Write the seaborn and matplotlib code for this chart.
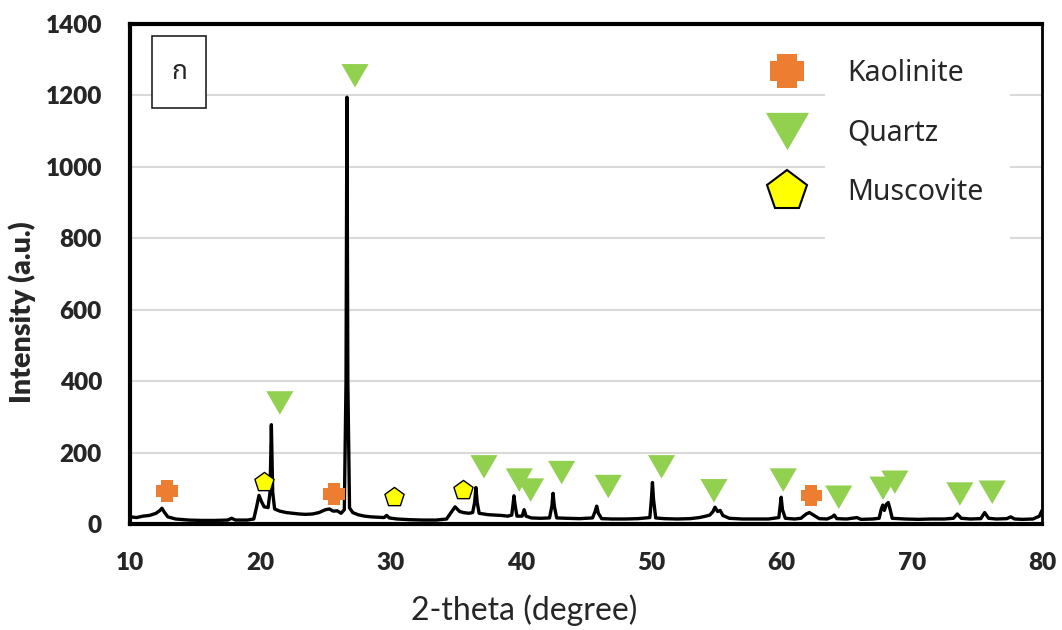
import numpy as np
import pandas as pd
import matplotlib
matplotlib.use("Agg")
import matplotlib.pyplot as plt
from matplotlib.path import Path
from matplotlib.lines import Line2D
from matplotlib.patches import Rectangle
from matplotlib.ticker import MultipleLocator
import seaborn as sns

# ---------------- data ----------------
two_theta = [10.0, 10.5, 11.0, 11.5, 12.0, 12.3, 12.45, 12.6, 12.9, 13.5, 14.5, 15.5, 16.5, 17.5,
             17.8, 18.1, 19.0, 19.5, 19.7, 19.9, 20.1, 20.3, 20.6, 20.75, 20.85, 20.95, 21.1, 21.5,
             22.0, 22.5, 23.0, 23.5, 24.0, 24.5, 25.0, 25.3, 25.6, 25.9, 26.2, 26.45, 26.58, 26.65,
             26.72, 26.85, 27.1, 27.5, 28.0, 28.5, 29.0, 29.5, 29.7, 29.9, 30.5, 31.5, 32.5, 33.5,
             34.3, 34.6, 34.95, 35.3, 35.6, 36.0, 36.3, 36.45, 36.55, 36.65, 36.8, 37.5, 38.0, 38.5,
             39.0, 39.3, 39.4, 39.47, 39.55, 39.7, 40.1, 40.25, 40.4, 40.8, 41.5, 42.2, 42.38, 42.47,
             42.57, 42.75, 43.5, 44.5, 45.5, 45.7, 45.82, 45.95, 46.2, 47.0, 48.0, 49.0, 49.9, 50.02,
             50.1, 50.18, 50.35, 51.0, 52.0, 53.0, 53.7, 54.2, 54.5, 54.75, 54.9, 55.1, 55.3, 55.5,
             56.0, 57.0, 58.0, 59.0, 59.8, 59.9, 59.98, 60.08, 60.3, 61.0, 61.5, 61.9, 62.15, 62.5,
             62.9, 63.5, 63.9, 64.05, 64.25, 65.0, 65.8, 66.1, 67.0, 67.5, 67.65, 67.78, 67.9, 68.05,
             68.2, 68.35, 68.5, 69.5, 70.5, 71.5, 72.5, 73.2, 73.5, 73.8, 74.5, 75.3, 75.6, 75.9,
             76.5, 77.3, 77.6, 77.9, 78.5, 79.3, 79.8, 80.0]
intensity = [20, 18, 22, 24, 30, 38, 44, 35, 20, 14, 11, 10, 10, 11,
             16, 11, 11, 14, 45, 80, 62, 48, 46, 90, 278, 90, 42, 36,
             32, 30, 28, 27, 28, 32, 40, 42, 36, 37, 30, 40, 400, 1195,
             400, 45, 32, 26, 22, 20, 19, 18, 24, 17, 14, 12, 11, 11,
             14, 30, 48, 35, 32, 30, 32, 60, 102, 60, 30, 26, 25, 24,
             22, 25, 55, 79, 55, 22, 22, 40, 22, 17, 16, 17, 50, 86,
             50, 17, 16, 15, 17, 35, 50, 30, 15, 14, 14, 15, 18, 70,
             116, 70, 17, 15, 14, 15, 18, 22, 25, 35, 47, 35, 38, 24,
             16, 14, 14, 14, 18, 50, 75, 40, 16, 14, 16, 28, 32, 24,
             15, 14, 20, 25, 15, 14, 18, 13, 14, 16, 40, 53, 38, 55,
             60, 40, 16, 14, 13, 14, 14, 16, 28, 16, 14, 15, 32, 16,
             14, 15, 20, 14, 13, 14, 22, 38]

kaolinite_x = [12.84, 25.66, 62.3]
kaolinite_y = [92, 84, 80]

quartz_x = [21.5, 27.27, 37.17, 39.88, 40.75, 43.13, 46.71, 50.8, 54.82, 60.14, 64.4, 67.8, 68.71, 73.7, 76.18]
quartz_y = [339, 1255, 160, 123, 95, 144, 105, 160, 93, 123, 75, 100, 117, 84, 89]

muscovite_x = [20.31, 30.26, 35.53]
muscovite_y = [117, 75, 95]

phase_labels = ["Kaolinite", "Quartz", "Muscovite"]
x_ticks = [10, 20, 30, 40, 50, 60, 70, 80]
y_ticks = [0, 200, 400, 600, 800, 1000, 1200, 1400]
panel_label = "ก"

# ---------------- style ----------------
sns.set_style("white")
plt.rcParams['font.family'] = ['Lato', 'DejaVu Sans']

ORANGE = "#ED7D31"
GREEN = "#92D050"
YELLOW = "#FFFF00"

# custom marker shapes
a = 0.55
plus_path = Path([(-a, 1), (a, 1), (a, a), (1, a), (1, -a), (a, -a), (a, -1), (-a, -1),
                  (-a, -a), (-1, -a), (-1, a), (-a, a), (-a, 1)], closed=True)
tri_path = Path([(-1, 0.866), (1, 0.866), (0, -0.866), (-1, 0.866)], closed=True)

fig = plt.figure(figsize=(10.62, 6.30), dpi=100)
ax = fig.add_axes([130 / 1062, 106 / 630, 912 / 1062, 500 / 630])

df = pd.DataFrame({"two_theta": two_theta, "intensity": intensity})
sns.lineplot(data=df, x="two_theta", y="intensity", ax=ax, color="black", linewidth=2.4,
             sort=False, zorder=3)

sns.scatterplot(x=kaolinite_x, y=kaolinite_y, ax=ax, marker=plus_path, s=15.5 ** 2,
                color=ORANGE, edgecolor="none", linewidth=0, zorder=4)
sns.scatterplot(x=quartz_x, y=quartz_y, ax=ax, marker=tri_path, s=19.5 ** 2,
                color=GREEN, edgecolor="none", linewidth=0, zorder=4)
sns.scatterplot(x=muscovite_x, y=muscovite_y, ax=ax, marker="p", s=14.5 ** 2,
                color=YELLOW, edgecolor="black", linewidth=1.0, zorder=4)

ax.set_xlim(10, 80)
ax.set_ylim(0, 1400)
ax.set_xticks(x_ticks)
ax.set_yticks(y_ticks)
ax.xaxis.set_minor_locator(MultipleLocator(5))
ax.tick_params(axis="both", which="major", direction="out", length=7.2, width=2,
               labelsize=17.5, color="black", pad=13)
ax.tick_params(axis="x", which="minor", direction="out", length=4.5, width=1.5,
               color="black")
for lab in ax.get_xticklabels() + ax.get_yticklabels():
    lab.set_fontweight("heavy")

ax.yaxis.grid(True, color="#d9d9d9", linewidth=1.5, zorder=0)
ax.xaxis.grid(False)
ax.set_axisbelow(True)
for s in ax.spines.values():
    s.set_visible(True)
    s.set_color("black")
ax.spines["left"].set_linewidth(3)
ax.spines["bottom"].set_linewidth(3)
ax.spines["top"].set_linewidth(3)
ax.spines["right"].set_linewidth(2)

ax.set_xlabel("2-theta (degree)", fontsize=23)
ax.xaxis.set_label_coords((524.5 - 130) / 912, (524 - 610) / 500)
ax.xaxis.label.set_va("center")
ax.set_ylabel("Intensity (a.u.)", fontsize=20.5, fontweight="heavy")
ax.yaxis.set_label_coords((22 - 130) / 912, (524 - 312) / 500)
ax.yaxis.label.set_va("center")

# panel label box
ax.add_patch(Rectangle(((152 - 130) / 912, (524 - 108) / 500), 54 / 912, 72 / 500,
                       transform=ax.transAxes, facecolor="white", edgecolor="#222222",
                       linewidth=1.2, zorder=6))
ax.text((179 - 130) / 912, (524 - 72) / 500, panel_label, transform=ax.transAxes, fontsize=19,
        family=["Noto Sans Thai", "Loma", "Garuda", "Noto Sans", "DejaVu Sans"],
        ha="center", va="center", zorder=7)

# legend background (white block behind the labels)
ax.add_patch(Rectangle(((825 - 130) / 912, (524 - 245) / 500), (1010 - 825) / 912, (245 - 38) / 500,
                       transform=ax.transAxes, facecolor="white", edgecolor="none", zorder=1))

handles = [
    Line2D([], [], linestyle="none", marker=plus_path, markersize=25, markerfacecolor=ORANGE,
           markeredgewidth=0),
    Line2D([], [], linestyle="none", marker=tri_path, markersize=31, markerfacecolor=GREEN,
           markeredgewidth=0),
    Line2D([], [], linestyle="none", marker="p", markersize=30, markerfacecolor=YELLOW,
           markeredgecolor="black", markeredgewidth=1.5),
]
leg = ax.legend(handles, phase_labels, loc="upper left",
                bbox_to_anchor=((758.5 - 130) / 912, (524 - 59) / 500),
                frameon=False, handlelength=2.0, handletextpad=1.1,
                labelspacing=1.08, borderpad=0, borderaxespad=0,
                prop={"family": ["Noto Sans", "DejaVu Sans"], "size": 20.5})

fig.savefig("out.png", dpi=100)
